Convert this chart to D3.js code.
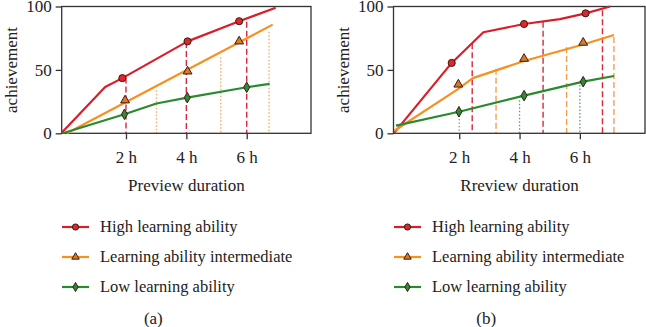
<!DOCTYPE html>
<html>
<head>
<meta charset="utf-8">
<script src="https://cdn.jsdelivr.net/npm/d3@7"></script>
<style>
body { margin: 0; background: #fff; }
text { font-family: "Liberation Serif", "DejaVu Serif", serif; fill: #222; }
</style>
</head>
<body>
<script>
// series names, ticks
var seriesNames = ["High learning ability", "Learning ability intermediate", "Low learning ability"];
var tickHours = [2, 4, 6];
var yTicks = [0, 50, 100];

// (a) preview: [hour, achievement]
var previewHigh = [[-0.13, 0.5], [1.31, 36.5], [1.88, 43.5], [4.04, 72.5], [5.75, 88.4], [6.96, 99]];
var previewHighMarks = [[1.88, 43.5], [4.04, 72.5], [5.75, 88.4]];
var previewMid = [[0.04, 0], [6.86, 85.7]];
var previewMidMarks = [[1.97, 26], [4.04, 48.8], [5.75, 72.5]];
var previewLow = [[-0.1, 0], [1.95, 15], [3.01, 23.5], [4.03, 28.1], [6.0, 36.3], [6.76, 39]];
var previewLowMarks = [[1.95, 15], [4.03, 28.1], [6.0, 36.3]];
var previewHighGuides = [[2, 44], [4, 72], [6, 88]];
var previewMidGuides = [[3.01, 34], [5.14, 60], [6.74, 80]];

// (b) review
var reviewHigh = [[-0.15, 0.5], [1.75, 55.5], [2.8, 79.7], [4.15, 86.2], [5.34, 90], [6.19, 94.6], [7.0, 100]];
var reviewHighMarks = [[1.75, 55.5], [4.15, 86.2], [6.19, 94.6]];
var reviewMid = [[-0.15, 2], [1.97, 35], [2.45, 43.5], [4.15, 57], [6.11, 70], [7.13, 77.5]];
var reviewMidMarks = [[1.97, 38.5], [4.15, 58.8], [6.11, 71.5]];
var reviewLow = [[-0.1, 6], [1.99, 17], [4.15, 29.7], [6.11, 40.7], [7.13, 45.2]];
var reviewLowMarks = [[1.99, 17], [4.15, 29.7], [6.11, 40.7]];
var reviewHighGuides = [[2.43, 71], [4.78, 88], [6.75, 97]];
var reviewMidGuides = [[3.22, 51], [5.56, 68], [7.13, 76]];
var reviewLowGuides = [[2, 14], [4, 26], [6, 38]];

var lineColors = ["#d91e2a", "#f7901e", "#2a8a2e"];
var markFills = ["#e3242b", "#d9792a", "#2e8b3a"];
var markStroke = "#3a1a10";
var symbols = [d3.symbolCircle, d3.symbolTriangle, d3.symbolDiamond];
var symSizes = [40, 34, 32];
var legSizes = [30, 24, 24];

var svg = d3.select("body").append("svg")
  .attr("width", 646)
  .attr("height", 327);

var panels = [
  {left: 61.7, right: 311, dom: [-0.13, 8.13], xlabel: "Preview duration", tag: "(a)", lx: 62,
   lines: [previewHigh, previewMid, previewLow],
   marks: [previewHighMarks, previewMidMarks, previewLowMarks],
   guides: [
     {data: previewHighGuides, color: "#d9283a", dash: "6,3", w: 1.4},
     {data: previewMidGuides, color: "#f4ad6a", dash: "1.5,2", w: 1.4}
   ]},
  {left: 393.5, right: 645, dom: [-0.18, 8.16], xlabel: "Rreview duration", tag: "(b)", lx: 394,
   lines: [reviewHigh, reviewMid, reviewLow],
   marks: [reviewHighMarks, reviewMidMarks, reviewLowMarks],
   guides: [
     {data: reviewLowGuides, color: "#5f9a86", dash: "1.3,2.2", w: 1.3},
     {data: reviewHighGuides, color: "#d9283a", dash: "6,3", w: 1.4},
     {data: reviewMidGuides, color: "#f2a050", dash: "6,3", w: 1.4}
   ]}
];

var plotTop = 6.5, plotBottom = 133.3;
var y = d3.scaleLinear().domain([0, 100]).range([plotBottom, plotTop]);

panels.forEach(function(p) {
  var x = d3.scaleLinear().domain(p.dom).range([p.left, p.right]);
  var g = svg.append("g");

  // guides first
  p.guides.forEach(function(gd) {
    g.append("g").selectAll("line")
      .data(gd.data)
      .join("line")
      .attr("x1", d => x(d[0])).attr("x2", d => x(d[0]))
      .attr("y1", d => y(d[1])).attr("y2", y(0))
      .attr("stroke", gd.color)
      .attr("stroke-width", gd.w)
      .attr("stroke-dasharray", gd.dash);
  });

  // frame
  g.append("rect")
    .attr("x", p.left).attr("y", plotTop)
    .attr("width", p.right - p.left).attr("height", plotBottom - plotTop)
    .attr("fill", "none").attr("stroke", "#333").attr("stroke-width", 1.3);

  var yAxis = g.append("g")
    .attr("transform", "translate(" + p.left + ",0)")
    .call(d3.axisLeft(y).tickValues(yTicks).tickSize(6).tickPadding(4));
  yAxis.select(".domain").remove();
  yAxis.selectAll("line").attr("stroke", "#333").attr("stroke-width", 1.3);
  yAxis.selectAll("text").attr("font-size", 17).attr("font-family", "Liberation Serif").attr("fill", "#222");

  var xAxis = g.append("g")
    .attr("transform", "translate(0," + plotBottom + ")")
    .call(d3.axisBottom(x).tickValues(tickHours).tickSize(6).tickPadding(12).tickFormat(d => d + " h"));
  xAxis.select(".domain").remove();
  xAxis.selectAll("line").attr("stroke", "#333").attr("stroke-width", 1.3);
  xAxis.selectAll("text").attr("font-size", 17).attr("font-family", "Liberation Serif").attr("fill", "#222");

  g.append("text")
    .attr("x", x(4)).attr("y", 191)
    .attr("text-anchor", "middle")
    .attr("font-size", 17)
    .text(p.xlabel);

  g.append("text")
    .attr("transform", "translate(" + (p.left - 45) + "," + 70 + ") rotate(-90)")
    .attr("text-anchor", "middle")
    .attr("font-size", 17)
    .text("achievement");

  var line = d3.line().x(d => x(d[0])).y(d => y(d[1]));
  p.lines.forEach(function(ld, i) {
    g.append("path")
      .attr("d", line(ld))
      .attr("fill", "none")
      .attr("stroke", lineColors[i])
      .attr("stroke-width", 2.2)
      .attr("stroke-linejoin", "round");
  });
  p.marks.forEach(function(md, i) {
    g.append("g").selectAll("path")
      .data(md)
      .join("path")
      .attr("transform", d => "translate(" + x(d[0]) + "," + y(d[1]) + ")")
      .attr("d", d3.symbol().type(symbols[i]).size(symSizes[i]))
      .attr("fill", markFills[i])
      .attr("stroke", markStroke)
      .attr("stroke-width", 1);
  });

  // legend
  var leg = g.append("g").selectAll("g")
    .data(seriesNames)
    .join("g")
    .attr("transform", (d, i) => "translate(" + p.lx + "," + (227 + i * 30) + ")");
  leg.append("line")
    .attr("x1", 0).attr("x2", 27)
    .attr("stroke", (d, i) => lineColors[i])
    .attr("stroke-width", 2.2);
  leg.append("path")
    .attr("transform", "translate(13.5,0)")
    .attr("d", (d, i) => d3.symbol().type(symbols[i]).size(legSizes[i])())
    .attr("fill", (d, i) => markFills[i])
    .attr("stroke", markStroke)
    .attr("stroke-width", 1);
  leg.append("text")
    .attr("x", 38).attr("dy", "0.33em")
    .attr("font-size", 16.5)
    .text(d => d);

  g.append("text")
    .attr("x", (p.left + p.right) / 2 - 33).attr("y", 324)
    .attr("text-anchor", "middle")
    .attr("font-size", 17)
    .text(p.tag);
});
</script>
</body>
</html>
